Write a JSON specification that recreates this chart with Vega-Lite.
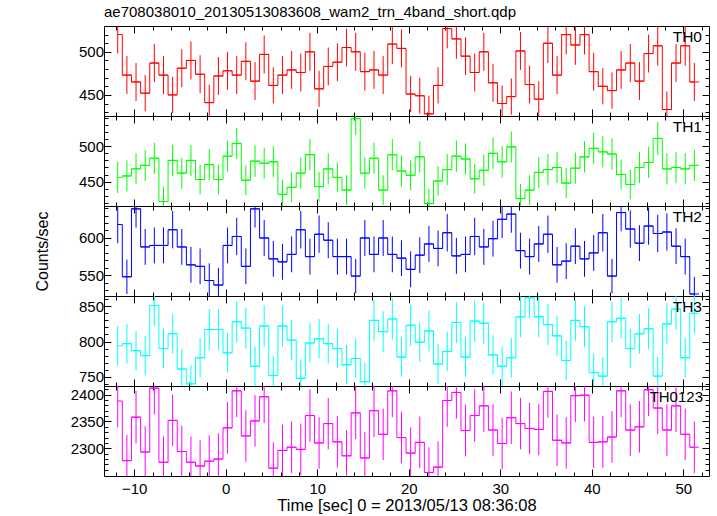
{
  "$schema": "https://vega.github.io/schema/vega-lite/v6.json",
  "padding": {"left": 34, "top": 4, "right": 3, "bottom": 0},
  "datasets": {
    "th0": [
      {"t": -11.8, "r": 520, "e": 22}, {"t": -10.8, "r": 473, "e": 22}, {"t": -9.8, "r": 465, "e": 22}, {"t": -8.8, "r": 452, "e": 21},
      {"t": -7.8, "r": 487, "e": 22}, {"t": -6.8, "r": 473, "e": 22}, {"t": -5.8, "r": 450, "e": 21}, {"t": -4.8, "r": 481, "e": 22},
      {"t": -3.8, "r": 490, "e": 22}, {"t": -2.8, "r": 474, "e": 22}, {"t": -1.8, "r": 441, "e": 21}, {"t": -0.8, "r": 472, "e": 22},
      {"t": 0.2, "r": 478, "e": 22}, {"t": 1.2, "r": 473, "e": 22}, {"t": 2.2, "r": 489, "e": 22}, {"t": 3.2, "r": 466, "e": 22},
      {"t": 4.2, "r": 497, "e": 22}, {"t": 5.2, "r": 461, "e": 21}, {"t": 6.2, "r": 473, "e": 22}, {"t": 7.2, "r": 479, "e": 22},
      {"t": 8.2, "r": 476, "e": 22}, {"t": 9.2, "r": 500, "e": 22}, {"t": 10.2, "r": 457, "e": 21}, {"t": 11.2, "r": 483, "e": 22},
      {"t": 12.2, "r": 488, "e": 22}, {"t": 13.2, "r": 505, "e": 22}, {"t": 14.2, "r": 500, "e": 22}, {"t": 15.2, "r": 477, "e": 22},
      {"t": 16.2, "r": 479, "e": 22}, {"t": 17.2, "r": 473, "e": 22}, {"t": 18.2, "r": 509, "e": 23}, {"t": 19.2, "r": 504, "e": 22},
      {"t": 20.2, "r": 451, "e": 21}, {"t": 21.2, "r": 449, "e": 21}, {"t": 22.2, "r": 428, "e": 21}, {"t": 23.2, "r": 461, "e": 21},
      {"t": 24.2, "r": 527, "e": 23}, {"t": 25.2, "r": 515, "e": 23}, {"t": 26.2, "r": 495, "e": 22}, {"t": 27.2, "r": 476, "e": 22},
      {"t": 28.2, "r": 500, "e": 22}, {"t": 29.2, "r": 464, "e": 22}, {"t": 30.2, "r": 440, "e": 21}, {"t": 31.2, "r": 448, "e": 21},
      {"t": 32.2, "r": 501, "e": 22}, {"t": 33.2, "r": 462, "e": 22}, {"t": 34.2, "r": 445, "e": 21}, {"t": 35.2, "r": 510, "e": 23},
      {"t": 36.2, "r": 473, "e": 22}, {"t": 37.2, "r": 520, "e": 23}, {"t": 38.2, "r": 508, "e": 23}, {"t": 39.2, "r": 520, "e": 23},
      {"t": 40.2, "r": 477, "e": 22}, {"t": 41.2, "r": 460, "e": 21}, {"t": 42.2, "r": 455, "e": 21}, {"t": 43.2, "r": 479, "e": 22},
      {"t": 44.2, "r": 487, "e": 22}, {"t": 45.2, "r": 466, "e": 22}, {"t": 46.2, "r": 498, "e": 22}, {"t": 47.2, "r": 507, "e": 23},
      {"t": 48.2, "r": 433, "e": 21}, {"t": 49.2, "r": 487, "e": 22}, {"t": 50.2, "r": 507, "e": 23}, {"t": 51.2, "r": 465, "e": 22}
    ],
    "th1": [
      {"t": -11.8, "r": 456, "e": 22}, {"t": -10.8, "r": 458, "e": 22}, {"t": -9.8, "r": 468, "e": 22}, {"t": -8.8, "r": 473, "e": 22},
      {"t": -7.8, "r": 483, "e": 22}, {"t": -6.8, "r": 422, "e": 21}, {"t": -5.8, "r": 480, "e": 22}, {"t": -4.8, "r": 462, "e": 22},
      {"t": -3.8, "r": 480, "e": 22}, {"t": -2.8, "r": 453, "e": 21}, {"t": -1.8, "r": 474, "e": 22}, {"t": -0.8, "r": 453, "e": 21},
      {"t": 0.2, "r": 486, "e": 22}, {"t": 1.2, "r": 504, "e": 22}, {"t": 2.2, "r": 452, "e": 21}, {"t": 3.2, "r": 479, "e": 22},
      {"t": 4.2, "r": 476, "e": 22}, {"t": 5.2, "r": 478, "e": 22}, {"t": 6.2, "r": 432, "e": 21}, {"t": 7.2, "r": 442, "e": 21},
      {"t": 8.2, "r": 462, "e": 22}, {"t": 9.2, "r": 488, "e": 22}, {"t": 10.2, "r": 443, "e": 21}, {"t": 11.2, "r": 468, "e": 22},
      {"t": 12.2, "r": 456, "e": 21}, {"t": 13.2, "r": 438, "e": 21}, {"t": 14.2, "r": 539, "e": 23}, {"t": 15.2, "r": 462, "e": 22},
      {"t": 16.2, "r": 483, "e": 22}, {"t": 17.2, "r": 438, "e": 21}, {"t": 18.2, "r": 488, "e": 22}, {"t": 19.2, "r": 465, "e": 22},
      {"t": 20.2, "r": 459, "e": 21}, {"t": 21.2, "r": 485, "e": 22}, {"t": 22.2, "r": 419, "e": 21}, {"t": 23.2, "r": 451, "e": 21},
      {"t": 24.2, "r": 467, "e": 22}, {"t": 25.2, "r": 486, "e": 22}, {"t": 26.2, "r": 482, "e": 22}, {"t": 27.2, "r": 454, "e": 21},
      {"t": 28.2, "r": 466, "e": 22}, {"t": 29.2, "r": 490, "e": 22}, {"t": 30.2, "r": 478, "e": 22}, {"t": 31.2, "r": 499, "e": 22},
      {"t": 32.2, "r": 426, "e": 21}, {"t": 33.2, "r": 438, "e": 21}, {"t": 34.2, "r": 463, "e": 22}, {"t": 35.2, "r": 467, "e": 22},
      {"t": 36.2, "r": 470, "e": 22}, {"t": 37.2, "r": 448, "e": 21}, {"t": 38.2, "r": 469, "e": 22}, {"t": 39.2, "r": 485, "e": 22},
      {"t": 40.2, "r": 497, "e": 22}, {"t": 41.2, "r": 492, "e": 22}, {"t": 42.2, "r": 489, "e": 22}, {"t": 43.2, "r": 460, "e": 21},
      {"t": 44.2, "r": 446, "e": 21}, {"t": 45.2, "r": 470, "e": 22}, {"t": 46.2, "r": 477, "e": 22}, {"t": 47.2, "r": 511, "e": 23},
      {"t": 48.2, "r": 468, "e": 22}, {"t": 49.2, "r": 470, "e": 22}, {"t": 50.2, "r": 468, "e": 22}, {"t": 51.2, "r": 473, "e": 22}
    ],
    "th2": [
      {"t": -11.8, "r": 618, "e": 25}, {"t": -10.8, "r": 548, "e": 23}, {"t": -9.8, "r": 639, "e": 25}, {"t": -8.8, "r": 588, "e": 24},
      {"t": -7.8, "r": 590, "e": 24}, {"t": -6.8, "r": 590, "e": 24}, {"t": -5.8, "r": 611, "e": 25}, {"t": -4.8, "r": 588, "e": 24},
      {"t": -3.8, "r": 564, "e": 24}, {"t": -2.8, "r": 562, "e": 24}, {"t": -1.8, "r": 543, "e": 23}, {"t": -0.8, "r": 537, "e": 23},
      {"t": 0.2, "r": 590, "e": 24}, {"t": 1.2, "r": 602, "e": 25}, {"t": 2.2, "r": 562, "e": 24}, {"t": 3.2, "r": 639, "e": 25},
      {"t": 4.2, "r": 600, "e": 24}, {"t": 5.2, "r": 572, "e": 24}, {"t": 6.2, "r": 568, "e": 24}, {"t": 7.2, "r": 578, "e": 24},
      {"t": 8.2, "r": 611, "e": 25}, {"t": 9.2, "r": 575, "e": 24}, {"t": 10.2, "r": 605, "e": 25}, {"t": 11.2, "r": 597, "e": 24},
      {"t": 12.2, "r": 575, "e": 24}, {"t": 13.2, "r": 575, "e": 24}, {"t": 14.2, "r": 549, "e": 23}, {"t": 15.2, "r": 600, "e": 24},
      {"t": 16.2, "r": 578, "e": 24}, {"t": 17.2, "r": 600, "e": 24}, {"t": 18.2, "r": 578, "e": 24}, {"t": 19.2, "r": 573, "e": 24},
      {"t": 20.2, "r": 558, "e": 24}, {"t": 21.2, "r": 577, "e": 24}, {"t": 22.2, "r": 592, "e": 24}, {"t": 23.2, "r": 586, "e": 24},
      {"t": 24.2, "r": 607, "e": 25}, {"t": 25.2, "r": 576, "e": 24}, {"t": 26.2, "r": 578, "e": 24}, {"t": 27.2, "r": 602, "e": 25},
      {"t": 28.2, "r": 588, "e": 24}, {"t": 29.2, "r": 599, "e": 24}, {"t": 30.2, "r": 625, "e": 25}, {"t": 31.2, "r": 632, "e": 25},
      {"t": 32.2, "r": 583, "e": 24}, {"t": 33.2, "r": 575, "e": 24}, {"t": 34.2, "r": 592, "e": 24}, {"t": 35.2, "r": 605, "e": 25},
      {"t": 36.2, "r": 564, "e": 24}, {"t": 37.2, "r": 569, "e": 24}, {"t": 38.2, "r": 589, "e": 24}, {"t": 39.2, "r": 572, "e": 24},
      {"t": 40.2, "r": 580, "e": 24}, {"t": 41.2, "r": 607, "e": 25}, {"t": 42.2, "r": 549, "e": 23}, {"t": 43.2, "r": 634, "e": 25},
      {"t": 44.2, "r": 612, "e": 25}, {"t": 45.2, "r": 593, "e": 24}, {"t": 46.2, "r": 616, "e": 25}, {"t": 47.2, "r": 606, "e": 25},
      {"t": 48.2, "r": 608, "e": 25}, {"t": 49.2, "r": 589, "e": 24}, {"t": 50.2, "r": 575, "e": 24}, {"t": 51.2, "r": 525, "e": 23}
    ],
    "th3": [
      {"t": -11.8, "r": 794, "e": 28}, {"t": -10.8, "r": 797, "e": 28}, {"t": -9.8, "r": 787, "e": 28}, {"t": -8.8, "r": 780, "e": 28},
      {"t": -7.8, "r": 851, "e": 29}, {"t": -6.8, "r": 790, "e": 28}, {"t": -5.8, "r": 811, "e": 28}, {"t": -4.8, "r": 761, "e": 28},
      {"t": -3.8, "r": 740, "e": 27}, {"t": -2.8, "r": 777, "e": 28}, {"t": -1.8, "r": 817, "e": 29}, {"t": -0.8, "r": 817, "e": 29},
      {"t": 0.2, "r": 784, "e": 28}, {"t": 1.2, "r": 828, "e": 29}, {"t": 2.2, "r": 819, "e": 29}, {"t": 3.2, "r": 765, "e": 28},
      {"t": 4.2, "r": 822, "e": 29}, {"t": 5.2, "r": 752, "e": 27}, {"t": 6.2, "r": 822, "e": 29}, {"t": 7.2, "r": 802, "e": 28},
      {"t": 8.2, "r": 748, "e": 27}, {"t": 9.2, "r": 798, "e": 28}, {"t": 10.2, "r": 804, "e": 28}, {"t": 11.2, "r": 797, "e": 28},
      {"t": 12.2, "r": 790, "e": 28}, {"t": 13.2, "r": 767, "e": 28}, {"t": 14.2, "r": 776, "e": 28}, {"t": 15.2, "r": 743, "e": 27},
      {"t": 16.2, "r": 830, "e": 29}, {"t": 17.2, "r": 814, "e": 29}, {"t": 18.2, "r": 832, "e": 29}, {"t": 19.2, "r": 778, "e": 28},
      {"t": 20.2, "r": 823, "e": 29}, {"t": 21.2, "r": 799, "e": 28}, {"t": 22.2, "r": 815, "e": 29}, {"t": 23.2, "r": 768, "e": 28},
      {"t": 24.2, "r": 786, "e": 28}, {"t": 25.2, "r": 827, "e": 29}, {"t": 26.2, "r": 778, "e": 28}, {"t": 27.2, "r": 829, "e": 29},
      {"t": 28.2, "r": 826, "e": 29}, {"t": 29.2, "r": 781, "e": 28}, {"t": 30.2, "r": 765, "e": 28}, {"t": 31.2, "r": 777, "e": 28},
      {"t": 32.2, "r": 835, "e": 29}, {"t": 33.2, "r": 862, "e": 29}, {"t": 34.2, "r": 835, "e": 29}, {"t": 35.2, "r": 824, "e": 29},
      {"t": 36.2, "r": 808, "e": 28}, {"t": 37.2, "r": 773, "e": 28}, {"t": 38.2, "r": 830, "e": 29}, {"t": 39.2, "r": 821, "e": 29},
      {"t": 40.2, "r": 756, "e": 27}, {"t": 41.2, "r": 751, "e": 27}, {"t": 42.2, "r": 828, "e": 29}, {"t": 43.2, "r": 833, "e": 29},
      {"t": 44.2, "r": 790, "e": 28}, {"t": 45.2, "r": 811, "e": 28}, {"t": 46.2, "r": 818, "e": 29}, {"t": 47.2, "r": 751, "e": 27},
      {"t": 48.2, "r": 825, "e": 29}, {"t": 49.2, "r": 846, "e": 29}, {"t": 50.2, "r": 777, "e": 28}, {"t": 51.2, "r": 840, "e": 29}
    ],
    "th4": [
      {"t": -11.8, "r": 2388, "e": 49}, {"t": -10.8, "r": 2277, "e": 48}, {"t": -9.8, "r": 2358, "e": 49}, {"t": -8.8, "r": 2293, "e": 48},
      {"t": -7.8, "r": 2412, "e": 49}, {"t": -6.8, "r": 2274, "e": 48}, {"t": -5.8, "r": 2352, "e": 48}, {"t": -4.8, "r": 2294, "e": 48},
      {"t": -3.8, "r": 2274, "e": 48}, {"t": -2.8, "r": 2267, "e": 48}, {"t": -1.8, "r": 2276, "e": 48}, {"t": -0.8, "r": 2280, "e": 48},
      {"t": 0.2, "r": 2338, "e": 48}, {"t": 1.2, "r": 2407, "e": 49}, {"t": 2.2, "r": 2323, "e": 48}, {"t": 3.2, "r": 2351, "e": 48},
      {"t": 4.2, "r": 2396, "e": 49}, {"t": 5.2, "r": 2263, "e": 48}, {"t": 6.2, "r": 2296, "e": 48}, {"t": 7.2, "r": 2302, "e": 48},
      {"t": 8.2, "r": 2298, "e": 48}, {"t": 9.2, "r": 2361, "e": 49}, {"t": 10.2, "r": 2310, "e": 48}, {"t": 11.2, "r": 2346, "e": 48},
      {"t": 12.2, "r": 2312, "e": 48}, {"t": 13.2, "r": 2286, "e": 48}, {"t": 14.2, "r": 2366, "e": 49}, {"t": 15.2, "r": 2282, "e": 48},
      {"t": 16.2, "r": 2370, "e": 49}, {"t": 17.2, "r": 2326, "e": 48}, {"t": 18.2, "r": 2407, "e": 49}, {"t": 19.2, "r": 2320, "e": 48},
      {"t": 20.2, "r": 2291, "e": 48}, {"t": 21.2, "r": 2311, "e": 48}, {"t": 22.2, "r": 2255, "e": 47}, {"t": 23.2, "r": 2265, "e": 48},
      {"t": 24.2, "r": 2389, "e": 49}, {"t": 25.2, "r": 2404, "e": 49}, {"t": 26.2, "r": 2333, "e": 48}, {"t": 27.2, "r": 2361, "e": 49},
      {"t": 28.2, "r": 2379, "e": 49}, {"t": 29.2, "r": 2334, "e": 48}, {"t": 30.2, "r": 2309, "e": 48}, {"t": 31.2, "r": 2357, "e": 49},
      {"t": 32.2, "r": 2346, "e": 48}, {"t": 33.2, "r": 2337, "e": 48}, {"t": 34.2, "r": 2335, "e": 48}, {"t": 35.2, "r": 2406, "e": 49},
      {"t": 36.2, "r": 2315, "e": 48}, {"t": 37.2, "r": 2310, "e": 48}, {"t": 38.2, "r": 2398, "e": 49}, {"t": 39.2, "r": 2399, "e": 49},
      {"t": 40.2, "r": 2311, "e": 48}, {"t": 41.2, "r": 2312, "e": 48}, {"t": 42.2, "r": 2321, "e": 48}, {"t": 43.2, "r": 2407, "e": 49},
      {"t": 44.2, "r": 2334, "e": 48}, {"t": 45.2, "r": 2340, "e": 48}, {"t": 46.2, "r": 2409, "e": 49}, {"t": 47.2, "r": 2375, "e": 49},
      {"t": 48.2, "r": 2334, "e": 48}, {"t": 49.2, "r": 2379, "e": 49}, {"t": 50.2, "r": 2326, "e": 48}, {"t": 51.2, "r": 2302, "e": 48}
    ]
  },
  "spacing": 0,
  "bounds": "flush",
  "vconcat": [
    {
      "width": 605, "height": 90,
      "data": {"name": "th0"},
      "title": {"text": "ae708038010_20130513083608_wam2_trn_4band_short.qdp", "anchor": "start", "frame": "group", "fontSize": 15, "font": "Liberation Sans", "fontWeight": "normal", "color": "#000", "offset": 6},
      "layer": [
        {"transform": [{"bin": {"step": 1, "anchor": -12.3}, "field": "t", "as": ["t0", "t1"]}],
         "mark": {"type": "rule", "color": "#ff0000", "strokeWidth": 1, "clip": true},
         "encoding": {
           "x": {"field": "t0", "type": "quantitative", "scale": {"domain": [-13.3, 52.8], "nice": false, "zero": false},
                 "axis": {"orient": "bottom", "values": [-12,-10,-8,-6,-4,-2,0,2,4,6,8,10,12,14,16,18,20,22,24,26,28,30,32,34,36,38,40,42,44,46,48,50,52], "labels": false, "title": null, "tickSize": {"condition": {"test": "datum.value % 10 === 0", "value": -7}, "value": -4}}},
           "x2": {"field": "t1"},
           "y": {"field": "r", "type": "quantitative", "scale": {"domain": [425.5, 530], "nice": false, "zero": false},
                 "axis": {"orient": "left", "format": "d", "values": [430,440,450,460,470,480,490,500,510,520], "labelExpr": "datum.value % 50 === 0 ? datum.label : ''", "labelOverlap": false, "labelPadding": 7.5, "title": null, "tickSize": {"condition": {"test": "datum.value % 50 === 0", "value": -7}, "value": -4}}}
         }},
        {"mark": {"type": "line", "interpolate": "step", "color": "#ff0000", "strokeWidth": 1, "clip": true},
         "encoding": {
           "x": {"field": "t", "type": "quantitative", "axis": {"orient": "top", "values": [-12,-10,-8,-6,-4,-2,0,2,4,6,8,10,12,14,16,18,20,22,24,26,28,30,32,34,36,38,40,42,44,46,48,50,52], "labels": false, "title": null, "tickSize": {"condition": {"test": "datum.value % 10 === 0", "value": -7}, "value": -4}}},
           "y": {"field": "r", "type": "quantitative", "axis": {"orient": "right", "values": [430,440,450,460,470,480,490,500,510,520], "labels": false, "title": null, "tickSize": {"condition": {"test": "datum.value % 50 === 0", "value": -7}, "value": -4}}}
         }},
        {"mark": {"type": "errorbar", "color": "#ff0000", "clip": true},
         "encoding": {
           "x": {"field": "t", "type": "quantitative", "axis": null},
           "y": {"field": "r", "type": "quantitative", "axis": null},
           "yError": {"field": "e"}
         }},
        {"data": {"values": [{"label": "TH0"}]},
         "mark": {"type": "text", "align": "right", "baseline": "alphabetic", "dx": -7, "dy": 15.5, "fontSize": 15.5, "font": "Liberation Sans", "color": "#000"},
         "encoding": {
           "x": {"datum": 52.8, "type": "quantitative", "axis": null},
           "y": {"datum": 530, "type": "quantitative", "axis": null},
           "text": {"field": "label"}
         }}
      ],
      "resolve": {"axis": {"x": "independent", "y": "independent"}}
    },
    {
      "width": 605, "height": 90,
      "data": {"name": "th1"},
      "layer": [
        {"transform": [{"bin": {"step": 1, "anchor": -12.3}, "field": "t", "as": ["t0", "t1"]}],
         "mark": {"type": "rule", "color": "#00ff00", "strokeWidth": 1, "clip": true},
         "encoding": {
           "x": {"field": "t0", "type": "quantitative", "scale": {"domain": [-13.3, 52.8], "nice": false, "zero": false},
                 "axis": {"orient": "bottom", "values": [-12,-10,-8,-6,-4,-2,0,2,4,6,8,10,12,14,16,18,20,22,24,26,28,30,32,34,36,38,40,42,44,46,48,50,52], "labels": false, "title": null, "tickSize": {"condition": {"test": "datum.value % 10 === 0", "value": -7}, "value": -4}}},
           "x2": {"field": "t1"},
           "y": {"field": "r", "type": "quantitative", "scale": {"domain": [415.6, 542.7], "nice": false, "zero": false},
                 "axis": {"orient": "left", "format": "d", "values": [420,430,440,450,460,470,480,490,500,510,520,530,540], "labelExpr": "datum.value % 50 === 0 ? datum.label : ''", "labelOverlap": false, "labelPadding": 7.5, "title": null, "tickSize": {"condition": {"test": "datum.value % 50 === 0", "value": -7}, "value": -4}}}
         }},
        {"mark": {"type": "line", "interpolate": "step", "color": "#00ff00", "strokeWidth": 1, "clip": true},
         "encoding": {
           "x": {"field": "t", "type": "quantitative", "axis": {"orient": "top", "values": [-12,-10,-8,-6,-4,-2,0,2,4,6,8,10,12,14,16,18,20,22,24,26,28,30,32,34,36,38,40,42,44,46,48,50,52], "labels": false, "title": null, "tickSize": {"condition": {"test": "datum.value % 10 === 0", "value": -7}, "value": -4}}},
           "y": {"field": "r", "type": "quantitative", "axis": {"orient": "right", "values": [420,430,440,450,460,470,480,490,500,510,520,530,540], "labels": false, "title": null, "tickSize": {"condition": {"test": "datum.value % 50 === 0", "value": -7}, "value": -4}}}
         }},
        {"mark": {"type": "errorbar", "color": "#00ff00", "clip": true},
         "encoding": {
           "x": {"field": "t", "type": "quantitative", "axis": null},
           "y": {"field": "r", "type": "quantitative", "axis": null},
           "yError": {"field": "e"}
         }},
        {"data": {"values": [{"label": "TH1"}]},
         "mark": {"type": "text", "align": "right", "baseline": "alphabetic", "dx": -7, "dy": 15.5, "fontSize": 15.5, "font": "Liberation Sans", "color": "#000"},
         "encoding": {
           "x": {"datum": 52.8, "type": "quantitative", "axis": null},
           "y": {"datum": 542.7, "type": "quantitative", "axis": null},
           "text": {"field": "label"}
         }}
      ],
      "resolve": {"axis": {"x": "independent", "y": "independent"}}
    },
    {
      "width": 605, "height": 90,
      "data": {"name": "th2"},
      "layer": [
        {"transform": [{"bin": {"step": 1, "anchor": -12.3}, "field": "t", "as": ["t0", "t1"]}],
         "mark": {"type": "rule", "color": "#0000ff", "strokeWidth": 1, "clip": true},
         "encoding": {
           "x": {"field": "t0", "type": "quantitative", "scale": {"domain": [-13.3, 52.8], "nice": false, "zero": false},
                 "axis": {"orient": "bottom", "values": [-12,-10,-8,-6,-4,-2,0,2,4,6,8,10,12,14,16,18,20,22,24,26,28,30,32,34,36,38,40,42,44,46,48,50,52], "labels": false, "title": null, "tickSize": {"condition": {"test": "datum.value % 10 === 0", "value": -7}, "value": -4}}},
           "x2": {"field": "t1"},
           "y": {"field": "r", "type": "quantitative", "scale": {"domain": [522.3, 642.8], "nice": false, "zero": false},
                 "axis": {"orient": "left", "format": "d", "values": [530,540,550,560,570,580,590,600,610,620,630,640], "labelExpr": "datum.value % 50 === 0 ? datum.label : ''", "labelOverlap": false, "labelPadding": 7.5, "title": "Counts/sec", "titleFontSize": 16, "titlePadding": 27.7, "tickSize": {"condition": {"test": "datum.value % 50 === 0", "value": -7}, "value": -4}}}
         }},
        {"mark": {"type": "line", "interpolate": "step", "color": "#0000ff", "strokeWidth": 1, "clip": true},
         "encoding": {
           "x": {"field": "t", "type": "quantitative", "axis": {"orient": "top", "values": [-12,-10,-8,-6,-4,-2,0,2,4,6,8,10,12,14,16,18,20,22,24,26,28,30,32,34,36,38,40,42,44,46,48,50,52], "labels": false, "title": null, "tickSize": {"condition": {"test": "datum.value % 10 === 0", "value": -7}, "value": -4}}},
           "y": {"field": "r", "type": "quantitative", "axis": {"orient": "right", "values": [530,540,550,560,570,580,590,600,610,620,630,640], "labels": false, "title": null, "tickSize": {"condition": {"test": "datum.value % 50 === 0", "value": -7}, "value": -4}}}
         }},
        {"mark": {"type": "errorbar", "color": "#0000ff", "clip": true},
         "encoding": {
           "x": {"field": "t", "type": "quantitative", "axis": null},
           "y": {"field": "r", "type": "quantitative", "axis": null},
           "yError": {"field": "e"}
         }},
        {"data": {"values": [{"label": "TH2"}]},
         "mark": {"type": "text", "align": "right", "baseline": "alphabetic", "dx": -7, "dy": 15.5, "fontSize": 15.5, "font": "Liberation Sans", "color": "#000"},
         "encoding": {
           "x": {"datum": 52.8, "type": "quantitative", "axis": null},
           "y": {"datum": 642.8, "type": "quantitative", "axis": null},
           "text": {"field": "label"}
         }}
      ],
      "resolve": {"axis": {"x": "independent", "y": "independent"}}
    },
    {
      "width": 605, "height": 90,
      "data": {"name": "th3"},
      "layer": [
        {"transform": [{"bin": {"step": 1, "anchor": -12.3}, "field": "t", "as": ["t0", "t1"]}],
         "mark": {"type": "rule", "color": "#00ffff", "strokeWidth": 1, "clip": true},
         "encoding": {
           "x": {"field": "t0", "type": "quantitative", "scale": {"domain": [-13.3, 52.8], "nice": false, "zero": false},
                 "axis": {"orient": "bottom", "values": [-12,-10,-8,-6,-4,-2,0,2,4,6,8,10,12,14,16,18,20,22,24,26,28,30,32,34,36,38,40,42,44,46,48,50,52], "labels": false, "title": null, "tickSize": {"condition": {"test": "datum.value % 10 === 0", "value": -7}, "value": -4}}},
           "x2": {"field": "t1"},
           "y": {"field": "r", "type": "quantitative", "scale": {"domain": [737, 864.5], "nice": false, "zero": false},
                 "axis": {"orient": "left", "format": "d", "values": [740,750,760,770,780,790,800,810,820,830,840,850,860], "labelExpr": "datum.value % 50 === 0 ? datum.label : ''", "labelOverlap": false, "labelPadding": 7.5, "title": null, "tickSize": {"condition": {"test": "datum.value % 50 === 0", "value": -7}, "value": -4}}}
         }},
        {"mark": {"type": "line", "interpolate": "step", "color": "#00ffff", "strokeWidth": 1, "clip": true},
         "encoding": {
           "x": {"field": "t", "type": "quantitative", "axis": {"orient": "top", "values": [-12,-10,-8,-6,-4,-2,0,2,4,6,8,10,12,14,16,18,20,22,24,26,28,30,32,34,36,38,40,42,44,46,48,50,52], "labels": false, "title": null, "tickSize": {"condition": {"test": "datum.value % 10 === 0", "value": -7}, "value": -4}}},
           "y": {"field": "r", "type": "quantitative", "axis": {"orient": "right", "values": [740,750,760,770,780,790,800,810,820,830,840,850,860], "labels": false, "title": null, "tickSize": {"condition": {"test": "datum.value % 50 === 0", "value": -7}, "value": -4}}}
         }},
        {"mark": {"type": "errorbar", "color": "#00ffff", "clip": true},
         "encoding": {
           "x": {"field": "t", "type": "quantitative", "axis": null},
           "y": {"field": "r", "type": "quantitative", "axis": null},
           "yError": {"field": "e"}
         }},
        {"data": {"values": [{"label": "TH3"}]},
         "mark": {"type": "text", "align": "right", "baseline": "alphabetic", "dx": -7, "dy": 15.5, "fontSize": 15.5, "font": "Liberation Sans", "color": "#000"},
         "encoding": {
           "x": {"datum": 52.8, "type": "quantitative", "axis": null},
           "y": {"datum": 864.5, "type": "quantitative", "axis": null},
           "text": {"field": "label"}
         }}
      ],
      "resolve": {"axis": {"x": "independent", "y": "independent"}}
    },
    {
      "width": 605, "height": 90,
      "data": {"name": "th4"},
      "layer": [
        {"transform": [{"bin": {"step": 1, "anchor": -12.3}, "field": "t", "as": ["t0", "t1"]}],
         "mark": {"type": "rule", "color": "#ff00ff", "strokeWidth": 1, "clip": true},
         "encoding": {
           "x": {"field": "t0", "type": "quantitative", "scale": {"domain": [-13.3, 52.8], "nice": false, "zero": false},
                 "axis": {"orient": "bottom", "values": [-12,-10,-8,-6,-4,-2,0,2,4,6,8,10,12,14,16,18,20,22,24,26,28,30,32,34,36,38,40,42,44,46,48,50,52], "labelExpr": "datum.value % 10 === 0 ? datum.label : ''", "labelOverlap": false, "labelPadding": 12.5, "labelFlush": false, "title": "Time [sec] 0 = 2013/05/13 08:36:08", "titleFontSize": 16.5, "titlePadding": -2, "tickSize": {"condition": {"test": "datum.value % 10 === 0", "value": -7}, "value": -4}}},
           "x2": {"field": "t1"},
           "y": {"field": "r", "type": "quantitative", "scale": {"domain": [2248.4, 2416], "nice": false, "zero": false},
                 "axis": {"orient": "left", "format": "d", "values": [2260,2270,2280,2290,2300,2310,2320,2330,2340,2350,2360,2370,2380,2390,2400,2410], "labelExpr": "datum.value % 50 === 0 ? datum.label : ''", "labelOverlap": false, "labelPadding": 7.5, "title": null, "tickSize": {"condition": {"test": "datum.value % 50 === 0", "value": -7}, "value": -4}}}
         }},
        {"mark": {"type": "line", "interpolate": "step", "color": "#ff00ff", "strokeWidth": 1, "clip": true},
         "encoding": {
           "x": {"field": "t", "type": "quantitative", "axis": {"orient": "top", "values": [-12,-10,-8,-6,-4,-2,0,2,4,6,8,10,12,14,16,18,20,22,24,26,28,30,32,34,36,38,40,42,44,46,48,50,52], "labels": false, "title": null, "tickSize": {"condition": {"test": "datum.value % 10 === 0", "value": -7}, "value": -4}}},
           "y": {"field": "r", "type": "quantitative", "axis": {"orient": "right", "values": [2260,2270,2280,2290,2300,2310,2320,2330,2340,2350,2360,2370,2380,2390,2400,2410], "labels": false, "title": null, "tickSize": {"condition": {"test": "datum.value % 50 === 0", "value": -7}, "value": -4}}}
         }},
        {"mark": {"type": "errorbar", "color": "#ff00ff", "clip": true},
         "encoding": {
           "x": {"field": "t", "type": "quantitative", "axis": null},
           "y": {"field": "r", "type": "quantitative", "axis": null},
           "yError": {"field": "e"}
         }},
        {"data": {"values": [{"label": "TH0123"}]},
         "mark": {"type": "text", "align": "right", "baseline": "alphabetic", "dx": -6, "dy": 15.5, "fontSize": 15, "font": "Liberation Sans", "color": "#000"},
         "encoding": {
           "x": {"datum": 52.8, "type": "quantitative", "axis": null},
           "y": {"datum": 2416, "type": "quantitative", "axis": null},
           "text": {"field": "label"}
         }}
      ],
      "resolve": {"axis": {"x": "independent", "y": "independent"}}
    }
  ],
  "config": {
    "font": "Liberation Sans",
    "view": {"stroke": "#000000", "strokeWidth": 1},
    "axis": {"domain": false, "grid": false, "labelFont": "Liberation Sans", "labelFontSize": 15, "labelColor": "#000", "tickColor": "#000", "tickWidth": 1, "titleFont": "Liberation Sans", "titleFontSize": 15, "titleFontWeight": "normal", "titleColor": "#000"}
  }
}
